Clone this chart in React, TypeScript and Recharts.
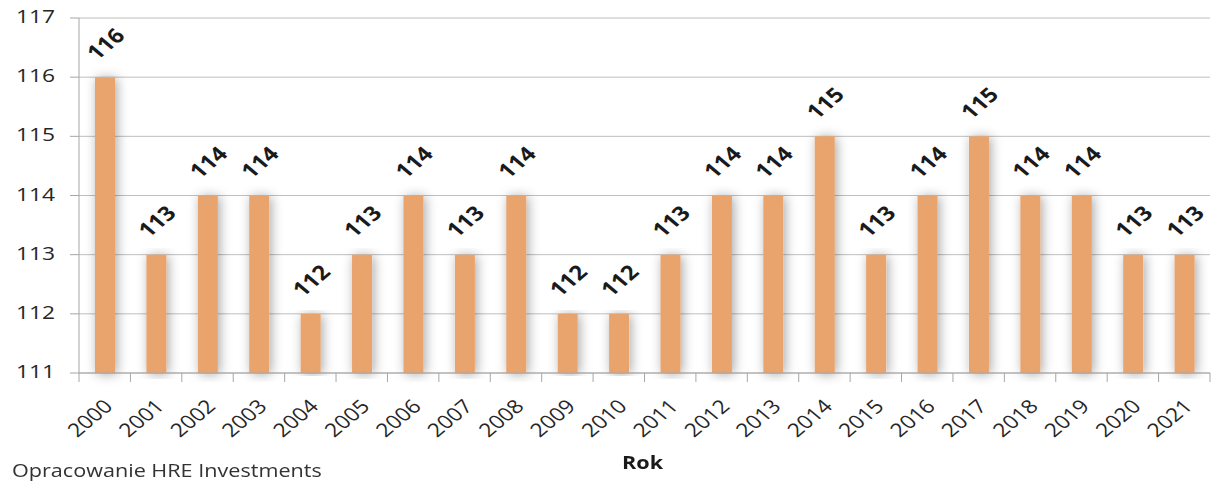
import { BarChart, Bar, XAxis, YAxis, CartesianGrid, LabelList } from 'recharts';

const years = [
  '2000', '2001', '2002', '2003', '2004', '2005', '2006', '2007', '2008', '2009', '2010',
  '2011', '2012', '2013', '2014', '2015', '2016', '2017', '2018', '2019', '2020', '2021',
];
const values = [116, 113, 114, 114, 112, 113, 114, 113, 114, 112, 112, 113, 114, 114, 115, 113, 114, 115, 114, 114, 113, 113];
const yTicks = [111, 112, 113, 114, 115, 116, 117];

const data = years.map((year, i) => ({ year, value: values[i] }));

const FONT = '"Open Sans", "Liberation Sans", sans-serif';
const BAR_COLOR = '#E9A46E';
const AXIS_COLOR = '#A6A6A6';
const TEXT_COLOR = '#262626';
// the original picture is stretched a little horizontally, text included
const STRETCH = 1.2;

// left edge and right edge of the plot area, used for tick marks between categories
const PLOT_LEFT = 79;
const PLOT_RIGHT = 1210;
const BAND = (PLOT_RIGHT - PLOT_LEFT) / years.length;

function YearTick(props: any) {
  const { x, y, payload, index } = props;
  const isLast = index === years.length - 1;
  const tx = x + 5;
  const ty = y + 23;
  return (
    <g>
      <line x1={x - BAND / 2} y1={y - 8} x2={x - BAND / 2} y2={y + 1} stroke={AXIS_COLOR} />
      {isLast && <line x1={x + BAND / 2} y1={y - 8} x2={x + BAND / 2} y2={y + 1} stroke={AXIS_COLOR} />}
      <text
        x={0}
        y={0}
        textAnchor="end"
        dominantBaseline="middle"
        transform={`translate(${tx} ${ty}) scale(${STRETCH} 1) rotate(-45)`}
        fill={TEXT_COLOR}
        fontSize={19}
        fontFamily={FONT}
      >
        {payload.value}
      </text>
    </g>
  );
}

function ValueTick(props: any) {
  const { x, y, payload } = props;
  return (
    <text
      x={0}
      y={0}
      textAnchor="end"
      dominantBaseline="middle"
      transform={`translate(${x} ${y}) scale(${STRETCH} 1)`}
      fill={TEXT_COLOR}
      fontSize={19}
      fontFamily={FONT}
    >
      {payload.value}
    </text>
  );
}

function ValueLabel(props: any) {
  const { x, y, width, value } = props;
  const cx = x + width / 2 + 2;
  const cy = y - 32;
  return (
    <text
      x={0}
      y={0}
      textAnchor="middle"
      dominantBaseline="middle"
      transform={`translate(${cx} ${cy}) scale(${STRETCH} 1) rotate(-45)`}
      fill="#1a1a1a"
      fontSize={20}
      fontWeight="bold"
      fontFamily={FONT}
    >
      {value}
    </text>
  );
}

export default function App() {
  return (
    <div style={{ position: 'absolute', left: 0, top: 0, width: 1222, height: 485, background: '#fff' }}>
      <BarChart
        width={1222}
        height={485}
        data={data}
        margin={{ top: 18, right: 12, left: 0, bottom: 0 }}
        barSize={20}
      >
        <defs>
          <filter id="barShadow" x="-100%" y="-5%" width="300%" height="110%">
            <feDropShadow dx="2" dy="1" stdDeviation="6" floodColor="#000" floodOpacity="0.35" />
          </filter>
        </defs>
        <CartesianGrid vertical={false} stroke="#BFBFBF" />
        <XAxis
          dataKey="year"
          height={112}
          tickLine={false}
          axisLine={{ stroke: AXIS_COLOR }}
          tick={<YearTick />}
          interval={0}
        />
        <YAxis
          width={79}
          domain={[111, 117]}
          ticks={yTicks}
          interval={0}
          axisLine={{ stroke: AXIS_COLOR }}
          tickLine={{ stroke: AXIS_COLOR }}
          tickSize={9}
          tickMargin={15}
          tick={<ValueTick />}
        />
        <Bar dataKey="value" fill={BAR_COLOR} filter="url(#barShadow)" isAnimationActive={false}>
          <LabelList dataKey="value" content={<ValueLabel />} />
        </Bar>
      </BarChart>
      <div
        style={{
          position: 'absolute',
          left: 622,
          top: 450,
          fontFamily: FONT,
          fontSize: 18,
          fontWeight: 'bold',
          color: '#1a1a1a',
          transform: `scaleX(${STRETCH})`,
          transformOrigin: 'left top',
        }}
      >
        Rok
      </div>
      <div
        style={{
          position: 'absolute',
          left: 12,
          top: 458,
          fontFamily: FONT,
          fontSize: 18,
          color: '#333',
          transform: `scaleX(${STRETCH})`,
          transformOrigin: 'left top',
        }}
      >
        Opracowanie HRE Investments
      </div>
    </div>
  );
}
